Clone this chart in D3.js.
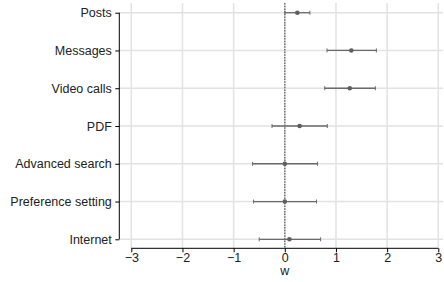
<!DOCTYPE html>
<html>
<head>
<meta charset="utf-8">
<script src="https://cdn.jsdelivr.net/npm/d3@7"></script>
<style>
  body { margin: 0; background: #fff; }
  svg { display: block; font-family: "Liberation Sans", Arial, sans-serif; }
</style>
</head>
<body>
<div id="chart"></div>
<script>
const features = ['Posts', 'Messages', 'Video calls', 'PDF', 'Advanced search', 'Preference setting', 'Internet'];
const estimates = [0.245, 1.30, 1.27, 0.29, 0.0, 0.0, 0.09];
const lower = [0.0, 0.825, 0.78, -0.25, -0.63, -0.61, -0.50];
const upper = [0.49, 1.79, 1.77, 0.83, 0.64, 0.62, 0.70];
const xTicks = [-3, -2, -1, 0, 1, 2, 3];

const width = 444;
const height = 282;
const rows = features.map((f, i) => ({name: f, est: estimates[i], lo: lower[i], hi: upper[i]}));

const svg = d3.select('#chart').append('svg')
  .attr('width', width).attr('height', height);

const x = d3.scaleLinear().domain([-3, 3]).range([131.3, 438.3]);
const y = d3.scalePoint().domain(features).range([12.7, 239.3]);

const axisX = 119.3;
const axisY = 248.3;
const gridTop = 3;
const fontSize = 12.5;

// grid
svg.append('g').selectAll('line').data(xTicks).join('line')
  .attr('x1', d => x(d)).attr('x2', d => x(d))
  .attr('y1', gridTop).attr('y2', axisY)
  .attr('stroke', '#e2e2e2').attr('stroke-width', 1.5);
svg.append('g').selectAll('line').data(features).join('line')
  .attr('x1', axisX).attr('x2', 443)
  .attr('y1', d => y(d)).attr('y2', d => y(d))
  .attr('stroke', '#e2e2e2').attr('stroke-width', 1.5);

// axes
const xAxis = svg.append('g')
  .attr('transform', `translate(0,${axisY})`)
  .call(d3.axisBottom(x).tickValues(xTicks).tickSize(4).tickPadding(0.5)
    .tickFormat(d => d < 0 ? '\u2212' + Math.abs(d) : d));
xAxis.select('.domain').attr('d', `M${x(-3)},0H${x(3)}`).attr('stroke', '#000');
xAxis.selectAll('text').attr('font-size', fontSize).attr('fill', '#222');

const yAxis = svg.append('g')
  .attr('transform', `translate(${axisX},0)`)
  .call(d3.axisLeft(y).tickSize(4).tickPadding(3.5));
yAxis.select('.domain').attr('d', `M0,${y('Posts')}V${y('Internet')}`).attr('stroke', '#000');
yAxis.selectAll('text').attr('font-size', fontSize).attr('fill', '#222');

svg.append('text')
  .attr('x', x(0)).attr('y', 275)
  .attr('text-anchor', 'middle').attr('font-size', fontSize).attr('fill', '#222')
  .text('w');

// zero reference line
svg.append('line')
  .attr('x1', x(0)).attr('x2', x(0))
  .attr('y1', gridTop).attr('y2', axisY)
  .attr('stroke', '#707070').attr('stroke-width', 1.5)
  .attr('stroke-dasharray', '1.5,1.2');

// error bars
const g = svg.append('g');
g.selectAll('.ci').data(rows).join('line')
  .attr('class', 'ci')
  .attr('x1', d => x(d.lo)).attr('x2', d => x(d.hi))
  .attr('y1', d => y(d.name)).attr('y2', d => y(d.name))
  .attr('stroke', '#6a6a6a').attr('stroke-width', 1.3);
g.selectAll('.capl').data(rows).join('line')
  .attr('class', 'capl')
  .attr('x1', d => x(d.lo)).attr('x2', d => x(d.lo))
  .attr('y1', d => y(d.name) - 2).attr('y2', d => y(d.name) + 2)
  .attr('stroke', '#6a6a6a').attr('stroke-width', 1);
g.selectAll('.caph').data(rows).join('line')
  .attr('class', 'caph')
  .attr('x1', d => x(d.hi)).attr('x2', d => x(d.hi))
  .attr('y1', d => y(d.name) - 2).attr('y2', d => y(d.name) + 2)
  .attr('stroke', '#6a6a6a').attr('stroke-width', 1);
g.selectAll('.dot').data(rows).join('circle')
  .attr('class', 'dot')
  .attr('cx', d => x(d.est)).attr('cy', d => y(d.name))
  .attr('r', 2.3)
  .attr('fill', '#5e5e5e');
</script>
</body>
</html>
